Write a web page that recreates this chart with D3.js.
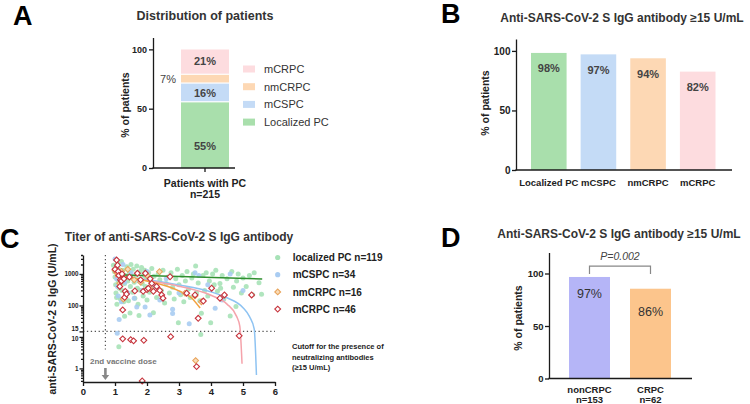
<!DOCTYPE html>
<html><head><meta charset="utf-8">
<script src="https://cdn.jsdelivr.net/npm/d3@7"></script>
<style>
body{margin:0;background:#fff;}
svg{display:block;font-family:"Liberation Sans",Arial,sans-serif;}
</style></head><body>
<svg id="c" width="750" height="404"></svg>
<script>
// ---------- Panel A data ----------
const distCategories = ["Localized PC","mCSPC","nmCRPC","mCRPC"];
const distValues = [55.3, 15.8, 7.4, 21.4];
const distLabels = ["55%","16%","7%","21%"];
const distGroup = "Patients with PC";
const distGroupN = "n=215";
// ---------- Panel B data ----------
const groupCategories = ["Localized PC","mCSPC","nmCRPC","mCRPC"];
const groupPositive = [98.3, 97.1, 93.8, 82.6];
const groupLabels = ["98%","97%","94%","82%"];
// ---------- Panel D data ----------
const crpcCategories = ["nonCRPC","CRPC"];
const crpcN = ["n=153","n=62"];
const crpcPositive = [96.7, 85.5];
const crpcLabels = ["97%","86%"];
const pValueLabel = "P=0.002";
// ---------- tick values ----------
const pctTicks = [0,50,100];
const titerTicks = [1,10,15,100,1000];
const titerMinorTicks = [0.4,0.5,0.6,0.7,0.8,0.9,2,3,4,5,6,7,8,9,20,30,40,50,60,70,80,90,200,300,400,500,600,700,800,900,2000,3000,4000];
const dayTicks = [0,1,2,3,4,5,6];
const cutoffValue = 15;
const secondDoseDay = 0.7;
// ---------- Panel C data: [months, titer U/mL] ----------
const seriesNames = ["localized PC n=119","mCSPC n=34","nmCRPC n=16","mCRPC n=46"];
const localizedPts = [[0.95,1900],[0.98,1200],[1.0,800],[1.02,450],[1.03,250],[1.05,180],[1.06,110],[1.08,2200],[1.1,1500],[1.1,600],
[1.12,4.9],[1.13,350],[1.15,1000],[1.17,160],[1.2,2500],[1.2,700],[1.22,300],[1.25,1300],[1.27,130],[1.3,500],
[1.32,900],[1.35,220],[1.37,1700],[1.4,600],[1.42,140],[1.45,1100],[1.48,400],[1.5,2000],[1.52,750],[1.55,260],
[1.57,1400],[1.6,550],[1.62,170],[1.65,900],[1.68,1800],[1.7,350],[1.72,110],[1.75,650],[1.78,1200],[1.8,300],
[1.83,1600],[1.85,500],[1.88,200],[1.9,900],[1.93,1300],[1.95,400],[1.98,700],[2.0,150],[2.05,1100],[2.08,260],
[2.1,600],[2.15,1500],[2.18,350],[2.2,59],[2.22,850],[2.28,450],[2.3,180],[2.35,1000],[2.4,650],[2.45,300],
[2.5,1300],[2.55,120],[2.6,500],[2.65,800],[2.7,250],[2.75,1100],[2.8,380],[2.85,160],[2.9,700],[2.95,1400],
[2.98,28],[3.0,450],[3.05,220],[3.1,900],[3.15,130],[3.2,600],[3.25,1200],[3.3,330],[3.35,180],[3.4,750],
[3.45,1000],[3.52,1800],[3.55,250],[3.6,520],[3.65,140],[3.68,12],[3.7,56],[3.75,900],[3.8,300],[3.85,1100],
[3.9,200],[3.95,600],[3.99,28],[4.05,1000],[4.1,450],[4.15,1300],[4.2,280],[4.28,500],[4.3,350],[4.35,900],
[4.4,160],[4.5,700],[4.6,46],[4.65,1200],[4.7,380],[4.78,92],[4.8,600],[4.85,1000],[4.95,250],[5.0,750],
[5.1,400],[5.2,900],[5.3,220],[5.35,1100],[5.5,530],[5.58,228],[1.3,45],[1.47,57],[1.75,48]];
const mcspcPts = [[1.0,3000],[1.03,1500],[1.05,700],[1.07,13],[1.08,400],[1.1,200],[1.13,36],[1.15,900],[1.2,130],[1.25,2000],
[1.3,550],[1.4,250],[1.5,1100],[1.6,170],[1.68,90],[1.75,600],[1.85,300],[1.94,90],[2.0,1200],[2.09,50],
[2.2,400],[2.4,150],[2.6,700],[2.8,75],[2.8,55],[3.0,250],[3.32,26],[3.5,1100],[3.62,890],[3.9,450],
[4.13,81],[4.35,150],[4.6,1000],[5.0,300]];
const nmcrpcPts = [[1.0,1300],[1.05,1100],[1.1,1000],[1.15,500],[1.2,1200],[1.26,160],[1.4,1400],[1.6,650],[1.8,550],[2.0,900],
[2.1,350],[2.39,1180],[3.19,245],[3.5,200],[3.7,130],[3.52,1.77]];
const mcrpcPts = [[1.0,1400],[1.05,2770],[1.08,1900],[1.1,1200],[1.12,900],[1.15,400],[1.17,650],[1.2,600],[1.22,1000],[1.24,72],
[1.24,8.7],[1.28,700],[1.3,180],[1.32,280],[1.36,230],[1.45,800],[1.49,8.2],[1.58,7.5],[1.62,290],[1.7,1050],
[1.8,650],[1.85,0.4],[1.88,280],[1.9,7.8],[1.95,1050],[2.0,320],[2.04,350],[2.1,700],[2.15,500],[2.2,280],
[2.3,400],[2.4,300],[2.46,215],[2.5,170],[2.72,815],[2.74,10.2],[3.24,245],[3.5,215],[3.55,1.14],[3.6,39],
[3.76,138],[4.02,352],[4.28,170],[4.42,215],[4.88,10.8],[5.27,215]];
// fitted trend lines
const localizedFit = [[1.0,950],[3.3,820],[5.6,690]];
const mcspcFit = [[1.0,830],[2.0,650],[3.0,450],[4.0,270],[4.5,175],[5.0,85],[5.2,45],[5.35,18],[5.42,0.62]];
const nmcrpcFit = [[1.0,900],[2.0,600],[3.0,290],[3.4,170],[3.66,83]];
const mcrpcFit = [[1.0,820],[2.0,620],[3.0,410],[4.0,210],[4.5,110],[4.8,45],[4.9,22],[4.97,1.4]];

// ---------- drawing ----------
const svg = d3.select("#c");
svg.append("rect").attr("width",750).attr("height",404).attr("fill","#fff");
const FONT = '"Liberation Sans", Arial, sans-serif';
const AX = "#1a1a1a";
const TXT = "#333";
const fillA = {"Localized PC":"#a9dfac","mCSPC":"#c4dbf6","nmCRPC":"#fdd8b4","mCRPC":"#fddcdf"};

function styleAxis(g, fs){
  g.selectAll("path,line").attr("stroke",AX).attr("stroke-width",1.3);
  g.selectAll("text").attr("font-size",fs).attr("font-weight","bold").attr("fill","#222").attr("font-family",FONT);
}
function txt(x,y,s,o={}){
  const t = svg.append("text").attr("x",x).attr("y",y).text(s)
    .attr("font-size",o.fs||11).attr("font-weight",o.fw||"bold").attr("fill",o.fill||TXT)
    .attr("text-anchor",o.anchor||"start");
  if(o.italic) t.attr("font-style","italic");
  if(o.rot) t.attr("transform",`rotate(-90,${x},${y})`);
  return t;
}
function hline(x1,x2,y,o={}){
  return svg.append("line").attr("x1",x1).attr("x2",x2).attr("y1",y).attr("y2",y)
   .attr("stroke",o.stroke||AX).attr("stroke-width",o.sw||1.3).attr("stroke-dasharray",o.dash||null);
}

// Panel letters
txt(13,25,"A",{fs:27,fill:"#000"});
txt(441,23,"B",{fs:27,fill:"#000"});
txt(0,248,"C",{fs:27,fill:"#000"});
txt(441,247,"D",{fs:27,fill:"#000"});

// ===== Panel A =====
{
  const yA = d3.scaleLinear().domain([0,110]).range([168,37.5]);
  const xA = d3.scaleBand().domain([distGroup]).range([181,229]);
  const row = Object.fromEntries(distCategories.map((c,i)=>[c,distValues[i]]));
  const stacked = d3.stack().keys(distCategories)([row]);
  const labelFrac = [0.34,0.5,0.5,0.55];
  stacked.forEach((s,i)=>{
    const d = s[0];
    svg.append("rect").attr("x",xA(distGroup)).attr("width",xA.bandwidth())
      .attr("y",yA(d[1])).attr("height",yA(d[0])-yA(d[1])-(i>0?1.2:0))
      .attr("fill",fillA[s.key]);
    const ly = yA(d[0]+(d[1]-d[0])*labelFrac[i]) + 4;
    if(distCategories[i]==="nmCRPC"){
      txt(xA(distGroup)-5,ly,distLabels[i],{fs:11,fw:"normal",anchor:"end",fill:"#444"});
    } else {
      txt(xA(distGroup)+xA.bandwidth()/2,ly,distLabels[i],{fs:11,anchor:"middle",fill:"#444"});
    }
  });
  const ga = svg.append("g").attr("transform","translate(153,0)")
    .call(d3.axisLeft(yA).tickValues(pctTicks).tickSize(4).tickPadding(2).tickSizeOuter(0));
  styleAxis(ga,9);
  hline(152.4,235,yA(0));
  const cx = xA(distGroup)+xA.bandwidth()/2;
  svg.append("line").attr("x1",cx).attr("x2",cx).attr("y1",yA(0)).attr("y2",yA(0)+4).attr("stroke",AX).attr("stroke-width",1.3);
  txt(cx,187,distGroup,{fs:10.5,anchor:"middle",fill:"#222"});
  txt(cx,198,distGroupN,{fs:10.5,anchor:"middle",fill:"#222"});
  txt(129,105,"% of patients",{fs:10.5,anchor:"middle",rot:true,fill:"#222"});
  txt(205,20,"Distribution of patients",{fs:12.5,anchor:"middle"});
  // legend (top = last stacked)
  const legOrder = distCategories.slice().reverse();
  legOrder.forEach((c,i)=>{
    const ly = 69 + i*17.7;
    svg.append("rect").attr("x",243).attr("y",ly-3.5).attr("width",12).attr("height",7).attr("fill",fillA[c]);
    txt(264,ly+4,c,{fs:11,fw:"normal",fill:"#333"});
  });
}

// ===== Panel B =====
{
  const yB = d3.scaleLinear().domain([0,110]).range([170,39]);
  const xB = d3.scaleBand().domain(groupCategories).range([531,715.5]).paddingInner(0.283).paddingOuter(0);
  svg.selectAll(".barB").data(groupCategories).enter().append("rect")
    .attr("x",d=>xB(d)).attr("width",xB.bandwidth())
    .attr("y",(d,i)=>yB(groupPositive[i])).attr("height",(d,i)=>yB(0)-yB(groupPositive[i]))
    .attr("fill",d=>fillA[d]);
  groupCategories.forEach((c,i)=>{
    txt(xB(c)+xB.bandwidth()/2, yB(groupPositive[i])+19.5, groupLabels[i],{fs:11,anchor:"middle",fill:"#444"});
    txt(xB(c)+xB.bandwidth()/2, 186, c,{fs:9.5,anchor:"middle",fill:"#222"});
  });
  const gb = svg.append("g").attr("transform","translate(516,0)")
    .call(d3.axisLeft(yB).tickValues(pctTicks).tickSize(4).tickPadding(1.5).tickSizeOuter(0));
  styleAxis(gb,10);
  hline(515.4,732,yB(0));
  txt(489,103,"% of patients",{fs:10.5,anchor:"middle",rot:true,fill:"#222"});
  txt(622,22,"Anti-SARS-CoV-2 S IgG antibody ≥15 U/mL",{fs:12,anchor:"middle"});
}

// ===== Panel D =====
{
  const yD = d3.scaleLinear().domain([0,120]).range([378.5,252.5]);
  const xD = d3.scaleBand().domain(crpcCategories).range([569,671]).paddingInner(0.328).paddingOuter(0);
  const fillD = ["#b5b5f7","#fcc58c"];
  const labOff = [21,27];
  crpcCategories.forEach((c,i)=>{
    svg.append("rect").attr("x",xD(c)).attr("width",xD.bandwidth())
      .attr("y",yD(crpcPositive[i])).attr("height",yD(0)-yD(crpcPositive[i])).attr("fill",fillD[i]);
    const cx = xD(c)+xD.bandwidth()/2;
    txt(cx, yD(crpcPositive[i])+labOff[i], crpcLabels[i],{fs:12.5,fw:"normal",anchor:"middle",fill:"#333"});
    txt(cx, 392.5, c,{fs:9.5,anchor:"middle",fill:"#222"});
    txt(cx, 403, crpcN[i],{fs:9.5,anchor:"middle",fill:"#222"});
  });
  const gd = svg.append("g").attr("transform","translate(549,0)")
    .call(d3.axisLeft(yD).tickValues(pctTicks).tickSize(4).tickPadding(1.5).tickSizeOuter(0));
  styleAxis(gd,9.5);
  hline(548.4,692,yD(0));
  // significance bracket
  const c1 = xD(crpcCategories[0])+xD.bandwidth()/2, c2 = xD(crpcCategories[1])+xD.bandwidth()/2;
  svg.append("path").attr("d",`M${c1},${yD(99.5)}V${yD(107)}H${c2}V${yD(99.5)}`)
    .attr("fill","none").attr("stroke","#888").attr("stroke-width",1.2);
  txt((c1+c2)/2, 260, pValueLabel,{fs:10.5,fw:"normal",italic:true,anchor:"middle",fill:"#444"});
  txt(522,318,"% of patients",{fs:10.5,anchor:"middle",rot:true,fill:"#222"});
  txt(619,238,"Anti-SARS-CoV-2 S IgG antibody ≥15 U/mL",{fs:12,anchor:"middle"});
}

// ===== Panel C =====
{
  const xC = d3.scaleLinear().domain([0,6]).range([83,275]);
  const yC = d3.scaleLog().domain([0.37,4000]).range([382,255]);
  const colG="#a7e2b7", colBl="#a9ccf2", colOr="#e8a35a", colOrFill="#f9dcb8", colRd="#c6323b";
  // reference lines
  hline(xC(0),xC(6),yC(cutoffValue),{stroke:"#555",sw:1.2,dash:"1.3,2.6"});
  svg.append("line").attr("x1",xC(secondDoseDay)).attr("x2",xC(secondDoseDay))
    .attr("y1",yC(4000)).attr("y2",yC(4)).attr("stroke","#555").attr("stroke-width",1.2).attr("stroke-dasharray","1.3,2.6");
  // circles
  svg.append("g").selectAll("circle").data(localizedPts).enter().append("circle")
    .attr("cx",d=>xC(d[0])).attr("cy",d=>yC(d[1])).attr("r",2.5).attr("fill",colG).attr("opacity",0.9);
  svg.append("g").selectAll("circle").data(mcspcPts).enter().append("circle")
    .attr("cx",d=>xC(d[0])).attr("cy",d=>yC(d[1])).attr("r",2.5).attr("fill",colBl).attr("opacity",0.9);
  // fit lines
  const line = d3.line().x(d=>xC(d[0])).y(d=>yC(d[1])).curve(d3.curveMonotoneX);
  [[localizedFit,"#2f8f2f"],[mcspcFit,"#8ec3f2"],[mcrpcFit,"#f5a3ab"],[nmcrpcFit,"#f3a13f"]].forEach(([dd,c])=>{
    svg.append("path").datum(dd).attr("d",line).attr("fill","none").attr("stroke",c).attr("stroke-width",1.5);
  });
  // diamonds
  const dia = d3.symbol().type(d3.symbolSquare).size(17);
  svg.append("g").selectAll("path").data(nmcrpcPts).enter().append("path")
    .attr("d",dia).attr("transform",d=>`translate(${xC(d[0])},${yC(d[1])}) rotate(45)`)
    .attr("fill",colOrFill).attr("stroke",colOr).attr("stroke-width",1);
  svg.append("g").selectAll("path").data(mcrpcPts).enter().append("path")
    .attr("d",dia).attr("transform",d=>`translate(${xC(d[0])},${yC(d[1])}) rotate(45)`)
    .attr("fill","#fff").attr("stroke",colRd).attr("stroke-width",1.1);
  // axes
  const gy = svg.append("g").attr("transform",`translate(${xC(0)},0)`)
    .call(d3.axisLeft(yC).tickValues(titerTicks).tickFormat(d3.format("d")).tickSize(3.5).tickPadding(1).tickSizeOuter(0));
  styleAxis(gy,6.3);
  gy.selectAll(".tick").filter(d=>d===15).select("text").attr("dy","-0.15em");
  gy.selectAll(".tick").filter(d=>d===10).select("text").attr("dy","0.6em");
  const gm = svg.append("g").attr("transform",`translate(${xC(0)},0)`)
    .call(d3.axisLeft(yC).tickValues(titerMinorTicks).tickFormat("").tickSize(2).tickSizeOuter(0));
  styleAxis(gm,6);
  gm.select(".domain").remove();
  const gx = svg.append("g").attr("transform",`translate(0,${yC(0.37)})`)
    .call(d3.axisBottom(xC).tickValues(dayTicks).tickFormat(d3.format("d")).tickSize(4).tickPadding(2).tickSizeOuter(0));
  styleAxis(gx,9.5);
  // arrow for 2nd dose
  const ax = xC(secondDoseDay);
  svg.append("path").attr("d",`M${ax-1.3},368V375H${ax-3.8}L${ax},380L${ax+3.8},375H${ax+1.3}V368Z`).attr("fill","#888");
  txt(90,363.5,"2nd vaccine dose",{fs:8,fill:"#777"});
  // labels
  txt(56,319,"anti-SARS-CoV-2 S IgG (U/mL)",{fs:10.5,anchor:"middle",rot:true,fill:"#222"});
  txt(179,241,"Titer of anti-SARS-CoV-2 S IgG antibody",{fs:12,anchor:"middle"});
  // legend
  seriesNames.forEach((s,i)=>{
    const ly = 257.5 + i*17.2, lx = 277.7;
    if(i<2){
      svg.append("circle").attr("cx",lx).attr("cy",ly).attr("r",2.6).attr("fill",i===0?colG:colBl);
    } else {
      svg.append("path").attr("d",dia).attr("transform",`translate(${lx},${ly}) rotate(45)`)
        .attr("fill",i===2?colOrFill:"#fff").attr("stroke",i===2?colOr:colRd).attr("stroke-width",1.1);
    }
    txt(292.7, ly+3.6, s,{fs:10,fill:"#222"});
  });
  txt(292,349,"Cutoff for the presence of",{fs:7.5,fill:"#222"});
  txt(292,359.5,"neutralizing antibodies",{fs:7.5,fill:"#222"});
  txt(292,370,"(≥15 U/mL)",{fs:7.5,fill:"#222"});
}
</script>
</body></html>
